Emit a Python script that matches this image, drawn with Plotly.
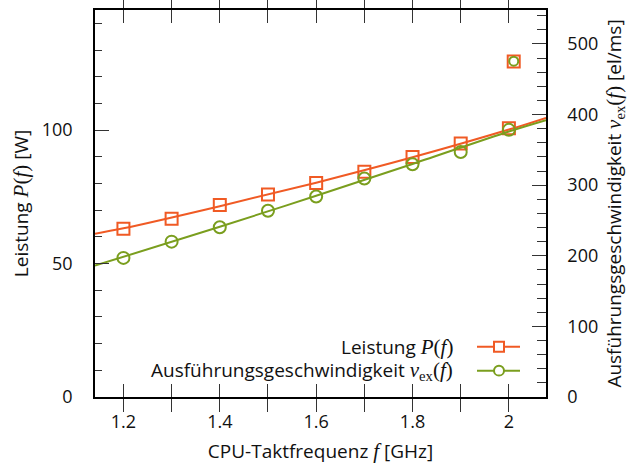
import plotly.graph_objects as go

# Measured data
freq = [1.2, 1.3, 1.4, 1.5, 1.6, 1.7, 1.8, 1.9, 2.0]
power = [63.0, 66.8, 71.9, 75.9, 80.2, 84.4, 89.9, 95.0, 100.7]
speed = [197.0, 220.0, 240.3, 263.8, 284.0, 309.3, 329.6, 346.9, 378.3]

# Turbo point
turbo_freq = [2.01]
turbo_power = [125.7]
turbo_speed = [475.5]

# Fitted curves
fit_freq = [1.141, 1.2, 1.4, 1.6, 1.8, 2.0, 2.077]
fit_power = [61.2, 63.2, 71.5, 80.3, 89.8, 100.2, 104.6]
fit_speed_x = [1.141, 1.4, 1.6, 1.8, 2.0, 2.077]
fit_speed = [186.0, 241.0, 285.0, 330.0, 376.0, 392.0]

x_tickvals = [1.2, 1.3, 1.4, 1.5, 1.6, 1.7, 1.8, 1.9, 2.0]
x_ticktext = ["1.2", "", "1.4", "", "1.6", "", "1.8", "", "2"]

ORANGE = "#f05a24"
GREEN = "#7a9e1e"
FONT = "Open Sans"
MATH = "Liberation Serif"
FS = 19
TFS = 18

def m(s):
    return f"<span style=\"font-family:'{MATH}';font-size:21px\">{s}</span>"

fig = go.Figure()

fig.add_trace(go.Scatter(x=fit_freq, y=fit_power, mode="lines", line=dict(color=ORANGE, width=2, shape="spline"),
                         showlegend=False, hoverinfo="skip"))
fig.add_trace(go.Scatter(x=fit_speed_x, y=fit_speed, mode="lines", line=dict(color=GREEN, width=2, shape="spline"),
                         showlegend=False, hoverinfo="skip", yaxis="y2"))
fig.add_trace(go.Scatter(x=freq, y=power, mode="markers",
                         marker=dict(symbol="square-open", size=12, color=ORANGE, line=dict(width=2)),
                         showlegend=False))
fig.add_trace(go.Scatter(x=freq, y=speed, mode="markers", yaxis="y2",
                         marker=dict(symbol="circle-open", size=12, color=GREEN, line=dict(width=2)),
                         showlegend=False))
fig.add_trace(go.Scatter(x=turbo_freq, y=turbo_power, mode="markers",
                         marker=dict(symbol="square-open", size=12, color=ORANGE, line=dict(width=2)),
                         showlegend=False))
fig.add_trace(go.Scatter(x=turbo_freq, y=turbo_speed, mode="markers", yaxis="y2",
                         marker=dict(symbol="circle-open", size=9, color=GREEN, line=dict(width=2)),
                         showlegend=False))

# Manual legend (text right-aligned, symbol to the right)
W, H = 451.0, 389.0
def px(x):
    return (x - 95) / W
def py(y):
    return (397 - y) / H

legend_items = [
    ("Leistung " + m("<i>P</i>(<i>f</i>)"), ORANGE, "square", 346.5),
    ("Ausführungsgeschwindigkeit " + m("<i>v</i><sub>ex</sub>(<i>f</i>)"), GREEN, "circle", 370.5),
]
annotations = []
shapes = []
for text, col, sym, yy in legend_items:
    annotations.append(dict(x=px(455), y=py(yy), xref="paper", yref="paper", text=text, showarrow=False,
                            xanchor="right", yanchor="middle", font=dict(family=FONT, size=FS, color="#111")))
    shapes.append(dict(type="line", xref="paper", yref="paper", x0=px(477), x1=px(520), y0=py(yy), y1=py(yy),
                       line=dict(color=col, width=2)))
    if sym == "square":
        shapes.append(dict(type="rect", xref="paper", yref="paper", x0=px(494), x1=px(504), y0=py(yy - 5), y1=py(yy + 5),
                           line=dict(color=col, width=2), fillcolor="white"))
    else:
        shapes.append(dict(type="circle", xref="paper", yref="paper", x0=px(494), x1=px(504), y0=py(yy - 5), y1=py(yy + 5),
                           line=dict(color=col, width=2), fillcolor="white"))

fig.update_layout(
    width=638, height=470,
    margin=dict(l=95, r=92, t=8, b=73),
    paper_bgcolor="white", plot_bgcolor="white",
    font=dict(family=FONT, size=FS, color="#111"),
    showlegend=False,
    xaxis=dict(range=[1.141, 2.077], tickvals=x_tickvals, ticktext=x_ticktext,
               ticks="inside", ticklen=13, tickcolor="#333", tickwidth=1.3,
               tickfont=dict(size=TFS),
               showline=True, linecolor="black", linewidth=1.5, mirror="allticks",
               showgrid=False, zeroline=False, ticklabelstandoff=8,
               title=dict(text="CPU-Taktfrequenz " + m("<i>f</i>") + " [GHz]", standoff=12,
                          font=dict(family=FONT, size=FS))),
    yaxis=dict(range=[0, 145], tickvals=[0, 50, 100], ticktext=["0", "50", "100"],
               ticks="inside", ticklen=14, tickcolor="#333", tickwidth=1.3,
               tickfont=dict(size=TFS),
               minor=dict(dtick=10, ticks="inside", ticklen=7, tickcolor="#333", tickwidth=1.3),
               showline=True, linecolor="black", linewidth=1.5, mirror=False,
               showgrid=False, zeroline=False, ticklabelstandoff=17,
               title=dict(text="Leistung " + m("<i>P</i>(<i>f</i>)") + " [W]", standoff=8,
                          font=dict(family=FONT, size=FS))),
    yaxis2=dict(range=[0, 548], overlaying="y", side="right", tickvals=[0, 100, 200, 300, 400, 500],
                ticktext=["0", "100", "200", "300", "400", "500"],
                ticks="inside", ticklen=14, tickcolor="#333", tickwidth=1.3,
                tickfont=dict(size=TFS),
                minor=dict(dtick=20, ticks="inside", ticklen=9, tickcolor="#333", tickwidth=1.3),
                showline=True, linecolor="black", linewidth=1.5,
                showgrid=False, zeroline=False, ticklabelstandoff=16,
                title=dict(text="Ausführungsgeschwindigkeit " + m("<i>v</i><sub>ex</sub>(<i>f</i>)") + " [el/ms]",
                           standoff=10, font=dict(family=FONT, size=FS))),
    annotations=annotations,
    shapes=shapes,
)

fig.write_html("out.html")
